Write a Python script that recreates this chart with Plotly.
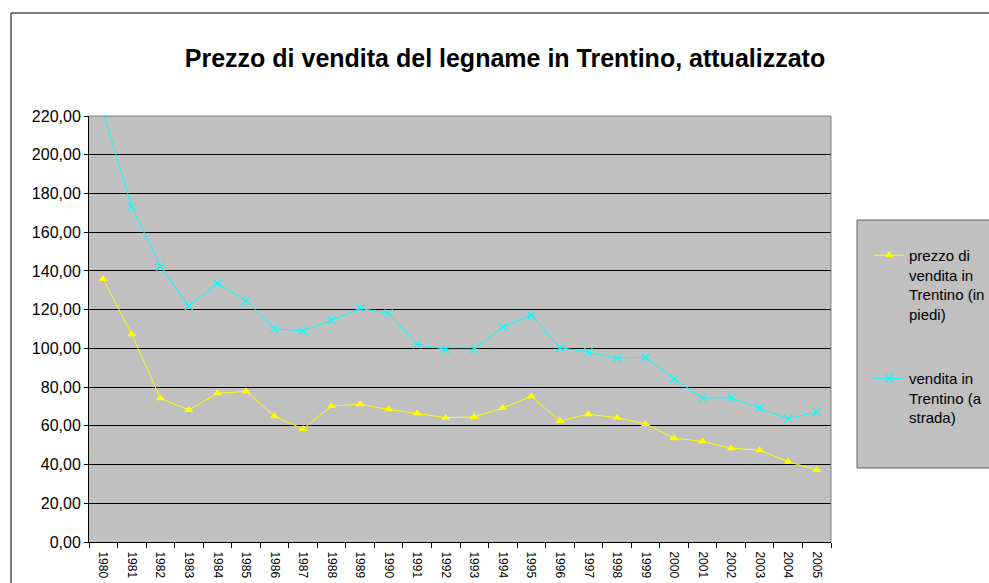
import plotly.graph_objects as go

years = [str(y) for y in range(1980, 2006)]
in_piedi = [135.8, 107.3, 74.2, 68.2, 76.8, 77.8, 64.9, 58.4, 70.2, 71.1, 68.5, 66.5, 64.2,
            64.6, 69.2, 75.2, 62.5, 66.0, 64.2, 61.0, 53.6, 52.0, 48.4, 47.4, 41.5, 37.2]
a_strada = [221.5, 173.2, 142.2, 121.9, 133.6, 124.6, 110.2, 109.0, 114.5, 120.7, 118.1, 102.1, 99.5,
            99.5, 111.1, 117.1, 100.4, 98.0, 95.0, 95.4, 84.2, 74.4, 74.4, 69.2, 63.7, 67.1]
name1 = "prezzo di<br>vendita in<br>Trentino (in<br>piedi)"
name2 = "vendita in<br>Trentino (a<br>strada)"
title = "Prezzo di vendita del legname in Trentino, attualizzato"

W, H = 989, 583
L, R, T, B = 89, 831, 116, 542


def px(x):
    return (x - L) / (R - L)


def py(y):
    return (B - y) / (B - T)


FONT = "Arial, Liberation Sans, sans-serif"

fig = go.Figure()
fig.add_trace(go.Scatter(x=years, y=in_piedi, name=name1, mode="lines+markers",
                         line=dict(color="#FFFF00", width=1),
                         marker=dict(symbol="triangle-up", size=8, color="#FFFF00"),
                         legend="legend"))
fig.add_trace(go.Scatter(x=years, y=a_strada, name=name2, mode="lines+markers",
                         line=dict(color="#00FFFF", width=1),
                         marker=dict(symbol="x-thin", size=8, line=dict(color="#00FFFF", width=1.2)),
                         legend="legend2"))

shapes = [
    # outer chart border
    dict(type="rect", xref="paper", yref="paper", x0=px(11), x1=px(1010), y0=py(600), y1=py(13),
         line=dict(color="#000000", width=1), layer="below"),
    # legend box
    dict(type="rect", xref="paper", yref="paper", x0=px(857), x1=px(1010), y0=py(468), y1=py(220),
         line=dict(color="#606060", width=1), fillcolor="#C0C0C0", layer="below"),
    # plot top and right border
    dict(type="line", xref="paper", yref="paper", x0=0, x1=1, y0=1, y1=1,
         line=dict(color="#808080", width=1)),
    dict(type="line", xref="paper", yref="paper", x0=1, x1=1, y0=0, y1=1,
         line=dict(color="#808080", width=1)),
]

fig.update_layout(
    width=W, height=H,
    margin=dict(l=L, r=W - R, t=T, b=H - B, pad=0, autoexpand=False),
    paper_bgcolor="white",
    plot_bgcolor="#C0C0C0",
    separators=",.",
    font=dict(family=FONT, color="#000000"),
    title=dict(text="<b>" + title + "</b>", x=px(505), xref="paper", xanchor="center",
               y=1 - 58 / H, yref="container", yanchor="middle",
               font=dict(size=25, family=FONT, color="#000000")),
    xaxis=dict(type="category", range=[-0.5, len(years) - 0.5], showgrid=False, showline=True,
               linecolor="#000000", linewidth=1,
               ticks="outside", ticklen=5, tickcolor="#000000", tickson="boundaries",
               ticklabelstandoff=6,
               tickangle=90, tickfont=dict(size=12, family=FONT), zeroline=False),
    yaxis=dict(range=[0, 220], dtick=20, tickformat=".2f", showgrid=True, gridcolor="#000000",
               gridwidth=1, showline=True, linecolor="#000000", linewidth=1,
               ticks="outside", ticklen=4, tickcolor="#000000", zeroline=False,
               tickfont=dict(size=16, family=FONT)),
    legend=dict(x=px(869), y=py(239), xanchor="left", yanchor="top", bgcolor="rgba(0,0,0,0)",
                borderwidth=0, valign="top", font=dict(size=15, family=FONT), itemwidth=30),
    legend2=dict(x=px(869), y=py(362), xanchor="left", yanchor="top", bgcolor="rgba(0,0,0,0)",
                 borderwidth=0, valign="top", font=dict(size=15, family=FONT), itemwidth=30),
    shapes=shapes,
    showlegend=True,
)

fig.write_html(
    "out.html",
    config={"displayModeBar": False},
    post_script="document.body.style.margin='0px';document.body.style.overflow='hidden';",
)
